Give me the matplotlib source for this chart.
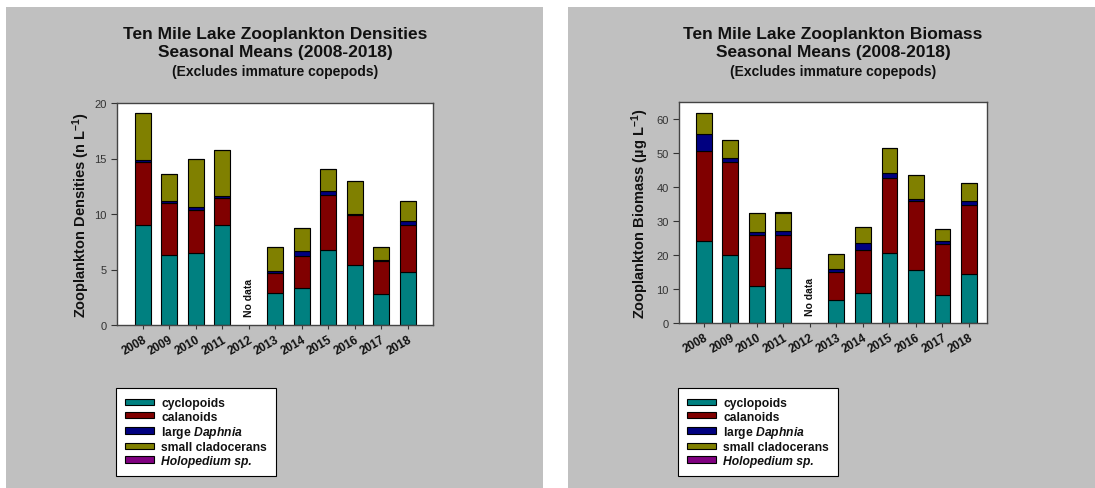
import matplotlib
matplotlib.use("Agg")
import matplotlib.pyplot as plt
from matplotlib.patches import Rectangle, Patch
import numpy as np

plt.rcParams['font.family'] = ['Liberation Sans', 'DejaVu Sans']
plt.rcParams['mathtext.fontset'] = 'custom'
plt.rcParams['mathtext.rm'] = 'Liberation Sans:bold'
plt.rcParams['mathtext.it'] = 'Liberation Sans:bold:italic'
plt.rcParams['mathtext.bf'] = 'Liberation Sans:bold'

years = ['2008', '2009', '2010', '2011', '2012', '2013', '2014', '2015', '2016', '2017', '2018']
groups = ['cyclopoids', 'calanoids', 'large $Daphnia$', 'small cladocerans', 'Holopedium sp.']
colors = ['#008080', '#800000', '#000080', '#808000', '#800080']

# Densities (n/L), 2012 = no data (nan)
dens_cyclopoids = [9.0, 6.3, 6.5, 9.0, np.nan, 2.9, 3.3, 6.8, 5.4, 2.8, 4.8]
dens_calanoids = [5.65, 4.7, 3.9, 2.4, np.nan, 1.75, 2.95, 4.95, 4.5, 2.95, 4.25]
dens_daphnia = [0.25, 0.15, 0.22, 0.24, np.nan, 0.24, 0.42, 0.33, 0.1, 0.15, 0.3]
dens_smallclad = [4.17, 2.47, 4.3, 4.12, np.nan, 2.17, 2.04, 1.93, 2.93, 1.11, 1.84]
dens_holopedium = [0.0, 0.0, 0.0, 0.0, np.nan, 0.0, 0.0, 0.0, 0.0, 0.0, 0.0]

# Biomass (ug/L)
bio_cyclopoids = [24.1, 20.0, 10.8, 16.3, np.nan, 6.65, 8.8, 20.6, 15.5, 8.1, 14.5]
bio_calanoids = [26.6, 27.5, 15.2, 9.7, np.nan, 8.35, 12.8, 22.0, 20.3, 15.1, 20.2]
bio_daphnia = [4.9, 0.9, 0.7, 1.2, np.nan, 0.85, 2.0, 1.5, 0.8, 1.0, 1.3]
bio_smallclad = [6.3, 5.3, 5.6, 5.3, np.nan, 4.35, 4.5, 7.4, 7.0, 3.5, 5.2]
bio_holopedium = [0.0, 0.0, 0.0, 0.0, np.nan, 0.0, 0.0, 0.0, 0.0, 0.0, 0.0]

W, H = 1095, 489
fig = plt.figure(figsize=(W / 100, H / 100), dpi=100)
fig.patch.set_facecolor('white')

def fx(px):
    return px / W

def fy(py):
    return 1 - py / H

# grey panels
fig.patches.append(Rectangle((fx(6), 0), fx(537), fy(8), transform=fig.transFigure,
                             facecolor='#c0c0c0', edgecolor='none', zorder=-10))
fig.patches.append(Rectangle((fx(568), 0), fx(527), fy(8), transform=fig.transFigure,
                             facecolor='#c0c0c0', edgecolor='none', zorder=-10))


def panel(rect, series, ylim, yticks, ylabel, title1, nodata_y, xlim, ylabel_x, legend_x):
    ax = fig.add_axes(rect)
    ax.set_facecolor('white')
    x = np.arange(len(years))
    first = np.array(series[0], dtype=float)
    valid = ~np.isnan(first)
    bottom = np.zeros(len(years))
    for vals, col in zip(series, colors):
        v = np.nan_to_num(np.array(vals, dtype=float))
        ax.bar(x[valid], v[valid], width=0.6, bottom=bottom[valid], color=col,
               edgecolor='black', linewidth=0.8)
        bottom = bottom + v
    ax.set_xlim(*xlim)
    ax.set_ylim(*ylim)
    ax.set_yticks(yticks)
    ax.set_xticks(x)
    ax.set_xticklabels(years, rotation=30, ha='right', rotation_mode='anchor',
                       fontsize=8.5, fontweight='bold', color='#111111')
    ax.tick_params(axis='x', length=3, width=0.8, pad=3, color='#333333')
    ax.tick_params(axis='y', length=4, width=0.8, labelsize=8, labelcolor='#333333', color='#333333')
    for s in ax.spines.values():
        s.set_color('#444444')
        s.set_linewidth(1.0)
    ax.text(4, nodata_y, 'No data', rotation=90, ha='center', va='center',
            fontsize=7.5, fontweight='bold', color='#111111')
    # y label
    cy = rect[1] + rect[3] / 2
    fig.text(ylabel_x, cy, ylabel, rotation=90, ha='center', va='center',
             fontsize=10.5, fontweight='bold', color='#111111')
    cx = rect[0] + rect[2] / 2
    fig.text(cx, fy(35), title1, ha='center', va='center', fontsize=12.5, fontweight='bold', color='#111111')
    fig.text(cx, fy(53), 'Seasonal Means (2008-2018)', ha='center', va='center',
             fontsize=12.5, fontweight='bold', color='#111111')
    fig.text(cx, fy(72), '(Excludes immature copepods)', ha='center', va='center',
             fontsize=10, fontweight='bold', color='#111111')
    handles = [Patch(facecolor=c, edgecolor='black', linewidth=0.8) for c in colors]
    leg = fig.legend(handles, groups, loc='upper left',
                     bbox_to_anchor=(fx(legend_x), fy(389)), bbox_transform=fig.transFigure,
                     frameon=True, fancybox=False, shadow=False, borderaxespad=0,
                     prop={'weight': 'bold', 'size': 8.7}, handlelength=2.4, handleheight=0.45,
                     handletextpad=0.6, labelspacing=0.12, borderpad=0.75)
    fr = leg.get_frame()
    fr.set_edgecolor('black')
    fr.set_linewidth(0.8)
    fr.set_facecolor('white')
    fr.set_alpha(1)
    for t in leg.get_texts():
        t.set_color('#111111')
    leg.get_texts()[4].set_fontstyle('italic')
    return ax


panel([fx(117), fy(326), fx(316), (326 - 104) / H],
      [dens_cyclopoids, dens_calanoids, dens_daphnia, dens_smallclad, dens_holopedium],
      (0, 20), [0, 5, 10, 15, 20], 'Zooplankton Densities (n L$^{-1}$)',
      'Ten Mile Lake Zooplankton Densities', 2.5, (-0.97, 10.95), fx(81), 116)

panel([fx(679), fy(324), fx(308), (324 - 103) / H],
      [bio_cyclopoids, bio_calanoids, bio_daphnia, bio_smallclad, bio_holopedium],
      (0, 65), [0, 10, 20, 30, 40, 50, 60], 'Zooplankton Biomass (µg L$^{-1}$)',
      'Ten Mile Lake Zooplankton Biomass', 8.0, (-0.94, 10.68), fx(640), 678)

fig.savefig('out.png', dpi=100)
